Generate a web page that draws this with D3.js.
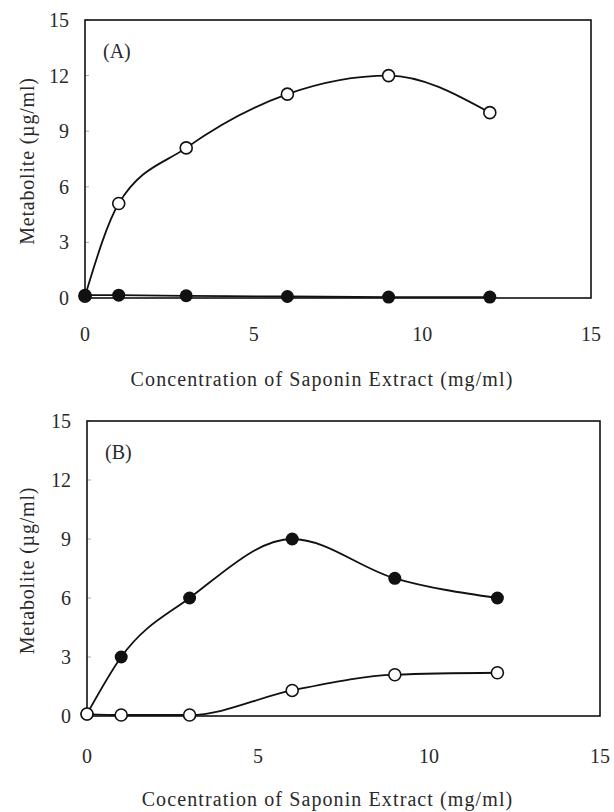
<!DOCTYPE html>
<html>
<head>
<meta charset="utf-8">
<script src="https://cdn.jsdelivr.net/npm/d3@7"></script>
<style>
  body { margin: 0; background: #fff; }
  svg { display: block; }
  text { font-family: "Liberation Serif", "DejaVu Serif", serif; fill: #2a2a2a; }
</style>
</head>
<body>
<svg id="chart" width="614" height="812"></svg>
<script>
// Concentration of saponin extract (mg/ml)
var conc = [0, 1, 3, 6, 9, 12];

// Panel A
var aOpen = [0.1, 5.1, 8.1, 11.0, 12.0, 10.0];
var aFilled = [0.15, 0.15, 0.12, 0.08, 0.05, 0.05];

// Panel B
var bOpen = [0.1, 0.05, 0.05, 1.3, 2.1, 2.2];
var bFilled = [0.1, 3.0, 6.0, 9.0, 7.0, 6.0];

var xTicks = [0, 5, 10, 15];
var yTicks = [0, 3, 6, 9, 12, 15];

var svg = d3.select('#chart');

// Panel layouts (pixel boxes)
var panels = [
    { label: '(A)', open: aOpen, filled: aFilled, filledOnTop: true,
      left: 85, right: 591, top: 20, bottom: 298,
      xLabelY: 341, titleY: 386,
      title: 'Concentration of Saponin Extract (mg/ml)' },
    { label: '(B)', open: bOpen, filled: bFilled, filledOnTop: false,
      left: 87, right: 600, top: 421, bottom: 716,
      xLabelY: 763, titleY: 806,
      title: 'Cocentration of Saponin Extract (mg/ml)' }
];

function toPoints(values) {
    return conc.map(function(c, i) { return { x: c, y: values[i] }; });
}

panels.forEach(function(p) {
    var x = d3.scaleLinear().domain([0, 15]).range([p.left, p.right]);
    var y = d3.scaleLinear().domain([0, 15]).range([p.bottom, p.top]);

    var g = svg.append('g');

    // faint inward ticks
    g.selectAll('.yt').data(yTicks).enter().append('line')
        .attr('x1', p.left).attr('x2', p.left + 4)
        .attr('y1', function(d) { return y(d); })
        .attr('y2', function(d) { return y(d); })
        .attr('stroke', '#aaa').attr('stroke-width', 1);

    // frame
    g.append('rect')
        .attr('x', p.left).attr('y', p.top)
        .attr('width', p.right - p.left).attr('height', p.bottom - p.top)
        .attr('fill', 'none').attr('stroke', '#111').attr('stroke-width', 1.6);

    // y tick labels
    g.selectAll('.yl').data(yTicks).enter().append('text')
        .attr('x', p.left - 16)
        .attr('y', function(d) { return y(d); })
        .attr('dy', '0.35em')
        .attr('text-anchor', 'end')
        .attr('font-size', 20)
        .text(function(d) { return d; });

    // x tick labels
    g.selectAll('.xl').data(xTicks).enter().append('text')
        .attr('x', function(d) { return x(d); })
        .attr('y', p.xLabelY)
        .attr('text-anchor', 'middle')
        .attr('font-size', 20)
        .text(function(d) { return d; });

    // axis titles
    g.append('text')
        .attr('x', (p.left + p.right) / 2 - 16)
        .attr('y', p.titleY)
        .attr('text-anchor', 'middle')
        .attr('font-size', 20)
        .attr('letter-spacing', 1.1)
        .text(p.title);

    g.append('text')
        .attr('transform', 'translate(34,' + ((p.top + p.bottom) / 2 + 2) + ') rotate(-90)')
        .attr('text-anchor', 'middle')
        .attr('font-size', 20)
        .attr('letter-spacing', 0.8)
        .text('Metabolite (\u00b5g/ml)');

    // panel label
    g.append('text')
        .attr('x', p.left + 18)
        .attr('y', p.top + 38)
        .attr('font-size', 20)
        .text(p.label);

    var line = d3.line()
        .x(function(d) { return x(d.x); })
        .y(function(d) { return y(d.y); })
        .curve(d3.curveMonotoneX);

    [p.filled, p.open].forEach(function(vals) {
        g.append('path')
            .attr('d', line(toPoints(vals)))
            .attr('fill', 'none')
            .attr('stroke', '#111')
            .attr('stroke-width', 1.8);
    });

    function drawFilled() {
        g.selectAll('.fd').data(toPoints(p.filled)).enter().append('circle')
            .attr('class', 'fd')
            .attr('cx', function(d) { return x(d.x); })
            .attr('cy', function(d) { return y(d.y); })
            .attr('r', 6.5)
            .attr('fill', '#111');
    }

    function drawOpen() {
        g.selectAll('.od').data(toPoints(p.open)).enter().append('circle')
            .attr('class', 'od')
            .attr('cx', function(d) { return x(d.x); })
            .attr('cy', function(d) { return y(d.y); })
            .attr('r', 6)
            .attr('fill', '#fff')
            .attr('stroke', '#111')
            .attr('stroke-width', 1.6);
    }

    if (p.filledOnTop) {
        drawOpen();
        drawFilled();
    } else {
        drawFilled();
        drawOpen();
    }
});
</script>
</body>
</html>
